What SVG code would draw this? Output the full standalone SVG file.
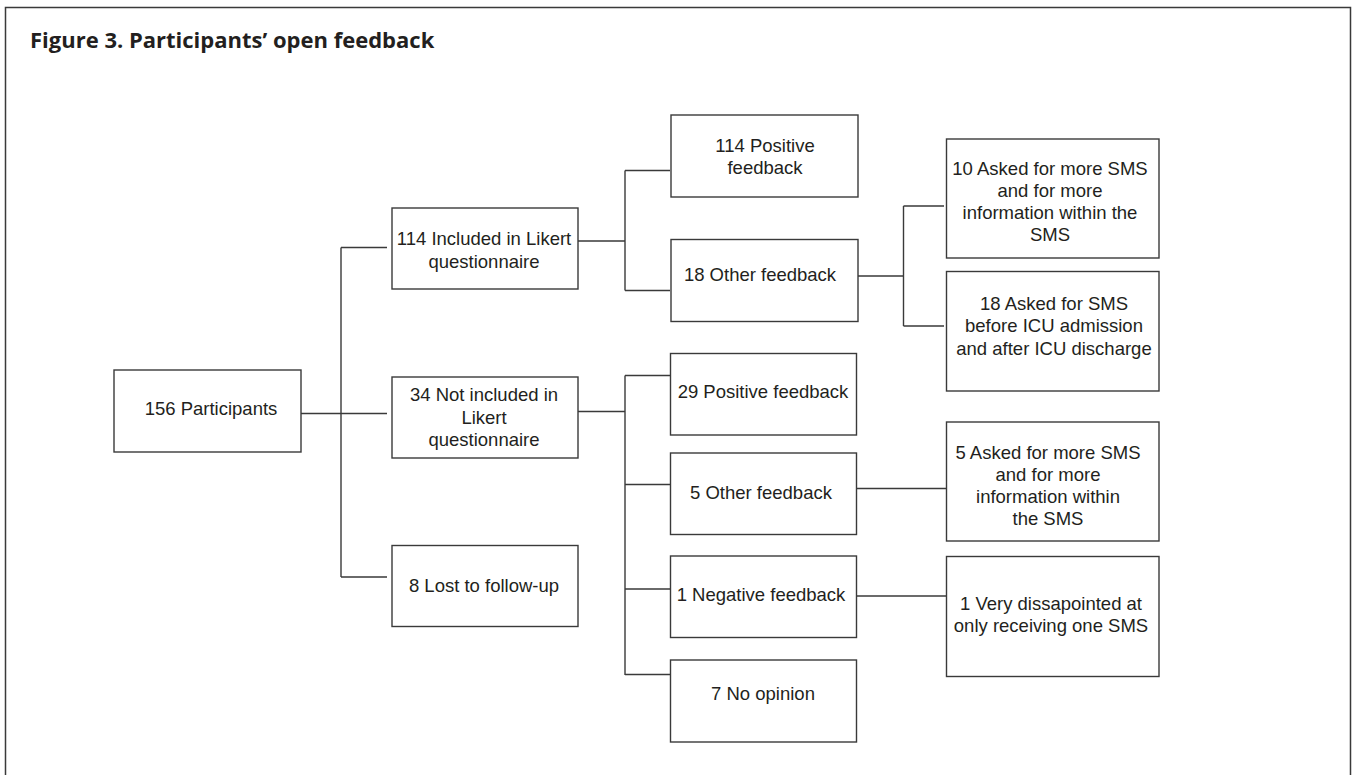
<svg xmlns="http://www.w3.org/2000/svg" width="1352" height="775" viewBox="0 0 1352 775">
<style>
.box{fill:#fff;stroke:#3a3a3a;stroke-width:1.4}
.lbl{font-family:"Liberation Sans",Arial,sans-serif;font-size:18.5px;fill:#231f20;text-anchor:middle}
.title{font-family:"Open Sans","Liberation Sans",sans-serif;font-size:22px;font-weight:bold;fill:#231f20}
.con{fill:none;stroke:#3a3a3a;stroke-width:1.4}
</style>
<rect width="1352" height="775" fill="#fff"/>
<path d="M5.5,790 V7.5 H1350.5 V790" fill="none" stroke="#3a3a3a" stroke-width="1.5"/>
<text class="title" x="30" y="48">Figure 3. Participants’ open feedback</text>
<g id="connectors">
<path class="con" d="M301,413.5 H387 M341,247.5 V577 M341,247.5 H387 M341,577 H387"/>
<path class="con" d="M578,241 H625 M625,170.5 V290.5 M625,170.5 H670 M625,290.5 H670"/>
<path class="con" d="M858,276 H903.5 M903.5,206 V326 M903.5,206 H944 M903.5,326 H944"/>
<path class="con" d="M578,411.5 H625 M625,375.5 V675 M625,375.5 H670 M625,484.5 H670 M625,589 H670 M625,674.5 H670"/>
<path class="con" d="M857,488.5 H946"/>
<path class="con" d="M857,596 H949"/>
</g>
<g id="n156"><rect class="box" x="114" y="370" width="187" height="82"/><text class="lbl" x="211" y="415">156 Participants</text></g>
<g id="n114inc"><rect class="box" x="392" y="208" width="186" height="81"/><text class="lbl" x="484" y="245">114 Included in Likert</text><text class="lbl" x="484" y="267.5">questionnaire</text></g>
<g id="n34"><rect class="box" x="392" y="377" width="186" height="81"/><text class="lbl" x="484" y="401">34 Not included in</text><text class="lbl" x="484" y="423.5">Likert</text><text class="lbl" x="484" y="446">questionnaire</text></g>
<g id="n8"><rect class="box" x="392" y="545.5" width="186" height="81"/><text class="lbl" x="484" y="592">8 Lost to follow-up</text></g>
<g id="n114pos"><rect class="box" x="671" y="115" width="187" height="82"/><text class="lbl" x="765" y="152">114 Positive</text><text class="lbl" x="765" y="174">feedback</text></g>
<g id="n18other"><rect class="box" x="671" y="239.5" width="187" height="82"/><text class="lbl" x="760" y="281">18 Other feedback</text></g>
<g id="n29pos"><rect class="box" x="670.5" y="353.5" width="186" height="81.5"/><text class="lbl" x="763" y="397.5">29 Positive feedback</text></g>
<g id="n5other"><rect class="box" x="670.5" y="453" width="186" height="81.5"/><text class="lbl" x="761" y="498.5">5 Other feedback</text></g>
<g id="n1neg"><rect class="box" x="670.5" y="556" width="186" height="81.5"/><text class="lbl" x="761" y="601">1 Negative feedback</text></g>
<g id="n7none"><rect class="box" x="670.5" y="660" width="186" height="82"/><text class="lbl" x="763" y="699.5">7 No opinion</text></g>
<g id="n10asked"><rect class="box" x="946.5" y="139" width="212.5" height="119"/><text class="lbl" x="1050" y="174.5">10 Asked for more SMS</text><text class="lbl" x="1050" y="197">and for more</text><text class="lbl" x="1050" y="219">information within the</text><text class="lbl" x="1050" y="241">SMS</text></g>
<g id="n18asked"><rect class="box" x="946.5" y="271.5" width="212.5" height="119.5"/><text class="lbl" x="1054" y="310">18 Asked for SMS</text><text class="lbl" x="1054" y="332">before ICU admission</text><text class="lbl" x="1054" y="355">and after ICU discharge</text></g>
<g id="n5asked"><rect class="box" x="946.5" y="422" width="212.5" height="119"/><text class="lbl" x="1048" y="458.5">5 Asked for more SMS</text><text class="lbl" x="1048" y="480.5">and for more</text><text class="lbl" x="1048" y="503">information within</text><text class="lbl" x="1048" y="525">the SMS</text></g>
<g id="n1very"><rect class="box" x="946.5" y="556.5" width="212.5" height="120"/><text class="lbl" x="1051" y="610">1 Very dissapointed at</text><text class="lbl" x="1051" y="632">only receiving one SMS</text></g>
</svg>
